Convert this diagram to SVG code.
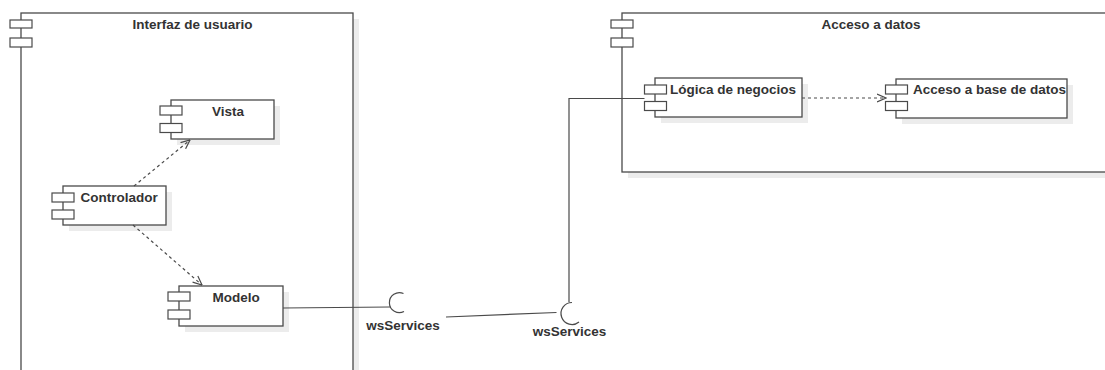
<svg xmlns="http://www.w3.org/2000/svg" width="1105" height="370" viewBox="0 0 1105 370">
  <style>
    .box { fill: #ffffff; stroke: #4a4a4a; stroke-width: 1.3; }
    .shadow { fill: #ececec; stroke: none; }
    .port { fill: #ffffff; stroke: #4a4a4a; stroke-width: 1.2; }
    .label { font-family: "Liberation Sans", Arial, sans-serif; font-size: 13.5px; font-weight: bold; fill: #333333; }
    .title { text-anchor: middle; }
    .dep { fill: none; stroke: #4a4a4a; stroke-width: 1.2; stroke-dasharray: 3 3; }
    .wire { fill: none; stroke: #4a4a4a; stroke-width: 1.2; }
  </style>
  <defs>
    <marker id="open" viewBox="0 0 10 10" refX="9.5" refY="5" markerWidth="10" markerHeight="10" markerUnits="userSpaceOnUse" orient="auto">
      <path d="M0.5,1 L9.5,5 L0.5,9" fill="none" stroke="#4a4a4a" stroke-width="1.2"/>
    </marker>
  </defs>
  <rect width="1105" height="370" fill="#ffffff"/>

  <!-- Interfaz de usuario container -->
  <g id="interfaz-usuario">
    <rect class="shadow" x="27" y="19" width="332" height="370"/>
    <rect class="box" x="21" y="13" width="332" height="370"/>
    <rect class="port" x="10" y="20" width="22" height="8"/>
    <rect class="port" x="10" y="38" width="22" height="9"/>
    <text class="label title" x="192.5" y="29">Interfaz de usuario</text>
  </g>

  <!-- Acceso a datos container -->
  <g id="acceso-datos">
    <rect class="shadow" x="628" y="19" width="500" height="159"/>
    <rect class="box" x="622" y="13" width="500" height="159"/>
    <rect class="port" x="611" y="20" width="22" height="8"/>
    <rect class="port" x="611" y="38" width="22" height="9"/>
    <text class="label title" x="871" y="29">Acceso a datos</text>
  </g>

  <!-- Vista -->
  <g id="vista">
    <rect class="shadow" x="177" y="106" width="103" height="39"/>
    <rect class="box" x="171" y="100" width="103" height="39"/>
    <rect class="port" x="160" y="106" width="22" height="9"/>
    <rect class="port" x="160" y="123.5" width="22" height="9"/>
    <text class="label" x="212" y="115.5">Vista</text>
  </g>

  <!-- Controlador -->
  <g id="controlador">
    <rect class="shadow" x="69" y="192" width="103" height="39"/>
    <rect class="box" x="63" y="186" width="103" height="39"/>
    <rect class="port" x="52" y="193" width="22" height="9"/>
    <rect class="port" x="52" y="210" width="22" height="9"/>
    <text class="label" x="80.5" y="201.5">Controlador</text>
  </g>

  <!-- Modelo -->
  <g id="modelo">
    <rect class="shadow" x="185" y="292" width="104" height="40"/>
    <rect class="box" x="179" y="286" width="104" height="40"/>
    <rect class="port" x="168" y="292" width="22" height="9"/>
    <rect class="port" x="168" y="310" width="22" height="9"/>
    <text class="label" x="212.5" y="302">Modelo</text>
  </g>

  <!-- Lógica de negocios -->
  <g id="logica-negocios">
    <rect class="shadow" x="661" y="84" width="147" height="39"/>
    <rect class="box" x="655" y="78" width="147" height="39"/>
    <rect class="port" x="644.5" y="85" width="22" height="9"/>
    <rect class="port" x="644.5" y="101.5" width="22" height="9"/>
    <text class="label" x="670" y="93.5">Lógica de negocios</text>
  </g>

  <!-- Acceso a base de datos -->
  <g id="acceso-base-datos">
    <rect class="shadow" x="902" y="85" width="171" height="39"/>
    <rect class="box" x="896" y="79" width="171" height="39"/>
    <rect class="port" x="885.5" y="85" width="22" height="9"/>
    <rect class="port" x="885.5" y="101.5" width="22" height="9"/>
    <text class="label" x="913" y="93.5">Acceso a base de datos</text>
  </g>

  <!-- Required interface sockets -->
  <g id="socket-modelo">
    <path class="wire" d="M403.5,293.5 A10,10 0 1 0 404,311.5"/>
    <text class="label title" x="403" y="330">wsServices</text>
  </g>
  <g id="socket-logica">
    <path class="wire" d="M572,302.5 A11,11 0 1 0 579,322"/>
    <text class="label title" x="569.5" y="336">wsServices</text>
  </g>

  <!-- Connectors -->
  <g id="connectors">
    <line class="dep" x1="134" y1="186" x2="190" y2="140" marker-end="url(#open)"/>
    <line class="dep" x1="133" y1="225" x2="202" y2="285" marker-end="url(#open)"/>
    <line class="dep" x1="802" y1="98" x2="886" y2="98" marker-end="url(#open)"/>
    <line class="wire" x1="283" y1="308" x2="390" y2="307"/>
    <line class="wire" x1="446" y1="317" x2="556.5" y2="312.5"/>
    <polyline class="wire" points="569,302 569,98.5 644.5,98.5"/>
  </g>
</svg>
